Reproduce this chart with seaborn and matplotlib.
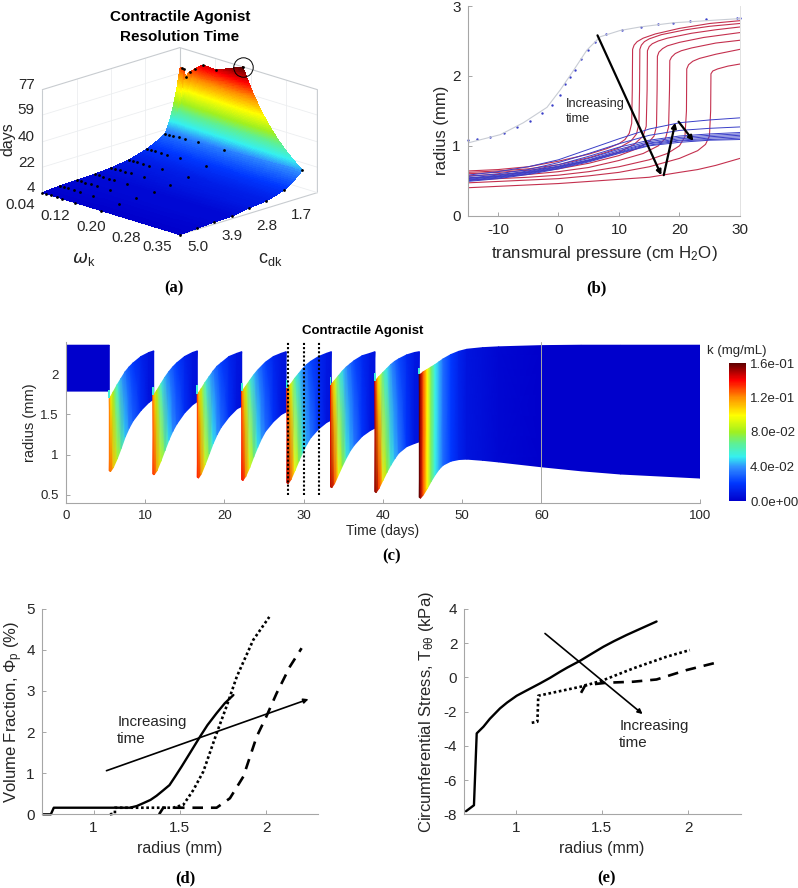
import numpy as np
import matplotlib
matplotlib.use('Agg')
import matplotlib.pyplot as plt
from matplotlib.colors import LinearSegmentedColormap, Normalize
from matplotlib.cm import ScalarMappable
from mpl_toolkits.mplot3d import proj3d
import seaborn as sns

W, H = 798, 888

# (a) resolution time surface
OMEGA_GRID = [0.04, 0.049, 0.059, 0.072, 0.085, 0.114, 0.173, 0.35]
CDK_GRID = [5.0, 4.44, 3.9, 3.33, 2.8, 2.23, 1.66, 1.08]
DAYS = [
    [4.0, 4.0, 4.0, 4.0, 4.0, 4.0, 4.0, 4.0],
    [5.0, 5.0, 5.0, 5.0, 4.9, 4.9, 4.8, 4.7],
    [5.4, 5.4, 5.4, 5.4, 5.4, 5.4, 5.5, 5.5],
    [5.7, 5.7, 5.7, 5.7, 5.7, 5.7, 5.7, 5.7],
    [6.7, 6.8, 6.8, 6.9, 7.0, 7.2, 7.5, 7.9],
    [8.5, 8.5, 8.6, 8.6, 8.7, 8.8, 9.0, 9.2],
    [12.4, 12.4, 12.5, 12.5, 12.6, 12.7, 12.9, 13.1],
    [19.0, 19.2, 19.4, 19.6, 19.9, 20.3, 20.8, 23.2],
]
OMEGA_TOP = [0.04, 0.044, 0.049, 0.053, 0.062, 0.075, 0.092, 0.122, 0.182]
DAYS_TOP = [62.5, 63.0, 62.5, 57.4, 62.0, 65.4, 69.7, 69.0, 77.0]
CDK_TOP = 0.6
OMEGA_TICKS = [0.04, 0.12, 0.20, 0.28, 0.35]
CDK_TICKS = [5.0, 3.9, 2.8, 1.7]
DAY_TICKS = [4, 22, 40, 59, 77]

# (b) pressure-radius curves
AIR_P = [-15, -9.6, -5.8, -1.9, 0.3, 2.5, 4.7, 6.9, 10.2, 13.5, 19, 30]
AIR_R = [1.04, 1.16, 1.33, 1.55, 1.80, 2.08, 2.37, 2.56, 2.65, 2.70, 2.76, 2.82]
DOT_P = [-14.9, -13.5, -11.3, -9.0, -6.8, -4.7, -2.65, -1.0, 0.28, 1.1, 1.93, 2.65,
         3.75, 4.85, 5.96, 7.83, 10.5, 13.7, 16.5, 19.0, 21.7, 24.3, 29.5, 30]
DOT_R = [1.078, 1.092, 1.121, 1.187, 1.273, 1.359, 1.474, 1.583, 1.731, 1.879, 1.984, 2.084,
         2.237, 2.37, 2.489, 2.60, 2.656, 2.699, 2.737, 2.761, 2.785, 2.809, 2.823, 2.823]
BLUE_P = [-15, -10, -5, 0, 5, 10, 15, 20, 25, 30]
BLUE_R = [
    [.58, .63, .70, .80, .95, 1.10, 1.24, 1.33, 1.37, 1.40],
    [.56, .60, .66, .76, .89, 1.03, 1.15, 1.22, 1.25, 1.27],
    [.54, .58, .64, .73, .85, .98, 1.08, 1.14, 1.17, 1.19],
    [.53, .57, .63, .71, .82, .95, 1.06, 1.12, 1.15, 1.17],
    [.52, .56, .62, .70, .80, .93, 1.04, 1.10, 1.13, 1.15],
    [.51, .55, .61, .69, .79, .91, 1.03, 1.08, 1.11, 1.13],
    [.50, .54, .60, .68, .78, .90, 1.01, 1.07, 1.09, 1.11],
    [.49, .53, .59, .67, .77, .89, 1.00, 1.05, 1.08, 1.09],
]
RED_P = [
    [-15, -10, -5, 0, 5, 8, 10, 11, 11.7, 12.1, 12.2, 12.25, 12.5, 13, 14, 16, 20, 25, 30],
    [-15, -10, -5, 0, 5, 8, 10, 12, 12.9, 13.3, 13.4, 13.45, 13.7, 14.2, 15, 17, 21, 25, 30],
    [-15, -10, -5, 0, 5, 8, 10, 12.5, 14, 14.5, 14.65, 14.7, 15, 15.5, 16.5, 18, 22, 26, 30],
    [-15, -10, -5, 0, 5, 10, 13, 15, 15.8, 16.2, 16.3, 16.35, 16.6, 17.2, 18, 20, 24, 30],
    [-15, -10, -5, 0, 5, 10, 14, 16.5, 17.7, 18.2, 18.35, 18.4, 18.7, 19.3, 20.3, 22, 26, 30],
    [-15, -10, -5, 0, 5, 10, 15, 18, 20, 20.9, 21.15, 21.2, 21.5, 22.2, 23.3, 26, 30],
    [-15, -10, -5, 0, 5, 10, 15, 20, 23, 24.3, 24.95, 25.15, 25.2, 25.5, 26.3, 28, 30],
    [-15, -10, -5, 0, 5, 10, 15, 20, 23, 26, 28, 30],
]
RED_R = [
    [.64, .66, .70, .78, .88, .96, 1.03, 1.09, 1.18, 1.32, 1.8, 2.38, 2.44, 2.49, 2.54, 2.6, 2.68, 2.75, 2.79],
    [.62, .64, .67, .73, .83, .91, .97, 1.07, 1.17, 1.32, 1.8, 2.38, 2.44, 2.49, 2.53, 2.59, 2.66, 2.71, 2.75],
    [.60, .62, .65, .70, .79, .86, .91, 1.02, 1.14, 1.28, 1.8, 2.36, 2.42, 2.46, 2.5, 2.54, 2.61, 2.66, 2.70],
    [.57, .59, .62, .67, .75, .86, .96, 1.06, 1.14, 1.28, 1.8, 2.28, 2.34, 2.39, 2.43, 2.48, 2.55, 2.62],
    [.54, .56, .59, .63, .69, .79, .89, 1.0, 1.11, 1.27, 1.8, 2.22, 2.27, 2.32, 2.36, 2.4, 2.47, 2.51],
    [.51, .53, .55, .58, .63, .70, .8, .89, 1.0, 1.13, 1.5, 2.1, 2.16, 2.21, 2.25, 2.31, 2.38],
    [.47, .49, .51, .53, .57, .62, .7, .82, .93, 1.02, 1.14, 1.5, 2.03, 2.07, 2.1, 2.14, 2.17],
    [.40, .42, .44, .46, .49, .52, .55, .62, .66, .72, .77, .82],
]

# (c) radius envelope and agonist level per dosing cycle
CYCLE_START = [5.5, 11.0, 16.6, 22.2, 27.9, 33.4, 39.0]
TAU = [0, .15, .5, 1, 1.5, 2, 2.5, 3, 4, 5, 5.6]
UPPER = [
    [1.70, 1.72, 1.78, 1.87, 1.95, 2.03, 2.09, 2.14, 2.22, 2.27, 2.29],
    [1.74, 1.75, 1.80, 1.88, 1.96, 2.03, 2.09, 2.14, 2.22, 2.27, 2.29],
    [1.76, 1.77, 1.82, 1.90, 1.97, 2.04, 2.10, 2.14, 2.22, 2.26, 2.28],
    [1.79, 1.80, 1.85, 1.92, 1.99, 2.05, 2.10, 2.15, 2.22, 2.26, 2.28],
    [1.83, 1.84, 1.88, 1.95, 2.01, 2.07, 2.12, 2.16, 2.22, 2.26, 2.28],
    [1.87, 1.88, 1.92, 1.98, 2.04, 2.09, 2.13, 2.17, 2.23, 2.26, 2.28],
    [1.92, 1.93, 1.97, 2.02, 2.07, 2.12, 2.16, 2.19, 2.24, 2.27, 2.28],
]
LOWER = [
    [.80, .79, .84, .95, 1.08, 1.22, 1.33, 1.42, 1.55, 1.65, 1.69],
    [.76, .75, .80, .92, 1.05, 1.18, 1.29, 1.38, 1.52, 1.62, 1.66],
    [.72, .71, .76, .88, 1.01, 1.14, 1.25, 1.34, 1.47, 1.57, 1.60],
    [.69, .68, .73, .84, .97, 1.09, 1.20, 1.29, 1.41, 1.50, 1.53],
    [.65, .64, .69, .80, .92, 1.03, 1.13, 1.21, 1.32, 1.40, 1.43],
    [.60, .59, .64, .75, .86, .96, 1.05, 1.12, 1.23, 1.30, 1.33],
    [.54, .53, .58, .68, .78, .87, .95, 1.02, 1.10, 1.14, 1.16],
]
K_PEAK = [.128, .134, .138, .141, .147, .150, .155]
K_LOW = [1, 1, .87, .67, .52, .37, .29, .23, .13, .055, .045]
K_UP = [.92, .8, .62, .42, .32, .25, .2, .16, .1, .06, .05]
STUB_TOP = [1.80, 1.84, 1.86, 1.89, 1.93, 1.97, 2.02, 2.08]

LAST_START = 44.6
LAST_TAU = [0, .15, .5, 1, 1.5, 2, 2.5, 3, 4, 5, 6, 8, 10, 15.4, 25.4, 35.4, 55.4]
LAST_UPPER = [2.0, 2.0, 2.03, 2.06, 2.09, 2.12, 2.155, 2.19, 2.245, 2.285, 2.31, 2.33, 2.34, 2.355, 2.36, 2.36, 2.36]
LAST_LOWER = [.47, .46, .5, .58, .67, .75, .82, .87, .92, .94, .945, .93, .91, .85, .80, .76, .71]
LAST_K = [.16, .152, .128, .1, .072, .053, .043, .032, .021, .013, .008, .005, .003, 0, 0, 0, 0]
BLOCK_T = [0, 5.5]
BLOCK_UPPER = [2.36, 2.36]
BLOCK_LOWER = [1.79, 1.79]
DOSE_LINES = [28, 30, 32]
TIME_TICKS = [0, 10, 20, 30, 40, 50, 60, 100]
CBAR_TICKS = [0, .04, .08, .12, .16]
CBAR_LABELS = ['0.0e+00', '4.0e-02', '8.0e-02', '1.2e-01', '1.6e-01']

# (d) volume fraction
PHI_SOLID = ([.708, .753, .77, 1.21, 1.25, 1.288, 1.33, 1.365, 1.40, 1.44, 1.47, 1.51, 1.56, 1.617, 1.66, 1.713, 1.76, 1.81],
             [0, 0, .16, .16, .2, .27, .35, .45, .57, .71, .9, 1.16, 1.5, 1.89, 2.17, 2.46, 2.7, 2.9])
PHI_DOT = ([1.095, 1.124, 1.124, 1.46, 1.52, 1.578, 1.636, 1.713, 1.77, 1.83, 1.925, 2.018],
           [0, .02, .16, .16, .23, .59, 1.04, 1.97, 2.62, 3.35, 4.24, 4.8])
PHI_DASH = ([1.38, 1.404, 1.713, 1.79, 1.868, 1.945, 2.0, 2.06, 2.137, 2.205],
            [0, .16, .16, .39, .92, 1.89, 2.37, 2.94, 3.59, 4.04])

# (e) circumferential stress
T_SOLID = ([.712, .758, .774, .813, .85, .909, .95, 1.006, 1.06, 1.141, 1.2, 1.257, 1.3, 1.373, 1.44, 1.508, 1.57, 1.643, 1.7, 1.817],
           [-7.82, -7.47, -3.27, -2.88, -2.42, -1.81, -1.47, -1.07, -.78, -.35, -.02, .33, .58, .97, 1.38, 1.79, 2.12, 2.48, 2.74, 3.27])
T_DOT = ([1.093, 1.126, 1.131, 1.392, 1.508, 1.682, 1.875, 2.01],
         [-2.65, -2.59, -1.07, -.51, -.16, .53, 1.21, 1.6])
T_DASH = ([1.379, 1.404, 1.527, 1.682, 1.817, 1.991, 2.185],
          [-.9, -.45, -.31, -.25, -.12, .43, .92])

sns.set_theme(style='white')
plt.rcParams['font.family'] = ['Liberation Sans', 'DejaVu Sans']
plt.rcParams['mathtext.default'] = 'regular'
plt.rcParams['axes.unicode_minus'] = False

INK = '#262626'
GRAY = '#a6a6a6'
cmap = LinearSegmentedColormap.from_list('agonist', [
    (0.0, '#0000cc'), (0.13, '#0038ff'), (0.24, '#2f8cff'), (0.32, '#35f0f0'),
    (0.42, '#60f090'), (0.5, '#a0f020'), (0.62, '#ffff00'), (0.75, '#ff9000'),
    (0.875, '#ff0000'), (1.0, '#600000')])


def px_ax(left, top, right, bottom, **kw):
    return fig.add_axes([left / W, 1 - bottom / H, (right - left) / W, (bottom - top) / H], **kw)


def px_text(x, y, s, **kw):
    kw.setdefault('ha', 'center')
    kw.setdefault('va', 'center')
    kw.setdefault('color', INK)
    fig.text(x / W, 1 - y / H, s, **kw)


def panel_label(x, y, s):
    px_text(x, y, s, family='Liberation Serif', fontweight='bold', fontsize=12, color='black')


def style(ax, size=11):
    sns.despine(ax=ax)
    for side in ['left', 'bottom']:
        ax.spines[side].set_color(GRAY)
        ax.spines[side].set_linewidth(0.8)
    ax.tick_params(direction='in', length=3, width=0.7, color=GRAY,
                   labelsize=size, labelcolor=INK, pad=5, left=True, bottom=True)
    ax.patch.set_alpha(0)


def line(ax, x, y, color='black', lw=1.0, ls='-'):
    sns.lineplot(x=x, y=y, ax=ax, color=color, linewidth=lw, linestyle=ls,
                 sort=False, estimator=None, legend=False)


def arrow(ax, start, end, lw=1.3, scale=8):
    ax.annotate('', xy=end, xytext=start,
                arrowprops=dict(arrowstyle='-|>', color='black', lw=lw, mutation_scale=scale,
                                shrinkA=0, shrinkB=0))


fig = plt.figure(figsize=(W / 100, H / 100), dpi=100, facecolor='white')

# --- (a) ---
ax = px_ax(-5, -34, 355, 326, projection='3d', proj_type='ortho', computed_zorder=False)
ax.view_init(elev=17.8, azim=-45)
ax.set_box_aspect((1, 1, 0.556), zoom=0.797)
ax.set_xlim(0.04, 0.35)
ax.set_ylim(5.0, 0.6)
ax.set_zlim(4, 77)
ax.set_xticks([])
ax.set_yticks([])
ax.set_zticks([])
ax.set_axis_off()
ax.patch.set_alpha(0)

rows_c = np.array(CDK_GRID + [CDK_TOP])
# render mesh only: the read values above are what sets the surface
c_fine = np.concatenate([np.linspace(5.0, 1.09, 80), np.linspace(1.08, 0.6, 220)])
n_c, n_o = len(c_fine), 70
X = np.zeros((n_c, n_o))
Z = np.zeros((n_c, n_o))
for i, c in enumerate(c_fine):
    omax = np.interp(c, [0.6, 1.08, 5.0], [0.182, 0.35, 0.35])
    X[i] = np.linspace(0.04, omax, n_o)
    table = [np.interp(X[i], OMEGA_GRID, row) for row in DAYS]
    table.append(np.interp(X[i], OMEGA_TOP, DAYS_TOP))
    table = np.log(np.array(table))
    for j in range(n_o):
        Z[i, j] = np.exp(np.interp(-c, -rows_c, table[:, j]))
Y = np.repeat(c_fine[:, None], n_o, axis=1)
surf_norm = Normalize(4, 76)

box = '#c8ccd0'
faint = '#eceef0'
for z in DAY_TICKS[1:-1]:
    ax.plot([0.04, 0.04], [5.0, 0.6], [z, z], color=faint, lw=0.6, zorder=1)
    ax.plot([0.04, 0.35], [0.6, 0.6], [z, z], color=faint, lw=0.6, zorder=1)
for o in OMEGA_TICKS[1:-1]:
    ax.plot([o, o], [0.6, 0.6], [4, 77], color=faint, lw=0.6, zorder=1)
for c in CDK_TICKS[1:]:
    ax.plot([0.04, 0.04], [c, c], [4, 77], color=faint, lw=0.6, zorder=1)
ax.plot([0.04, 0.04, 0.35, 0.35], [5.0, 0.6, 0.6, 0.6], [77, 77, 77, 4], color=box, lw=0.8, zorder=1)
ax.plot([0.04, 0.04], [5.0, 5.0], [4, 77], color=box, lw=0.8, zorder=1)
ax.plot([0.04, 0.04], [0.6, 0.6], [4, 77], color=box, lw=0.8, zorder=1)
ax.plot([0.04, 0.35, 0.35], [5.0, 5.0, 0.6], [4, 4, 4], color=box, lw=0.8, zorder=1)
ax.plot([0.04, 0.04, 0.35], [5.0, 0.6, 0.6], [4, 4, 4], color=faint, lw=0.6, zorder=1)

ax.plot_surface(X, Y, Z, facecolors=cmap(surf_norm(Z)), rstride=1, cstride=1,
                linewidth=0, antialiased=False, shade=False, zorder=2)
for c, row in zip(CDK_GRID, DAYS):
    ax.plot(OMEGA_GRID, [c] * len(row), row, ls='', marker='o', ms=2.0, mew=0, color='black', zorder=5)
ax.plot(OMEGA_TOP[1:], [CDK_TOP] * 8, DAYS_TOP[1:], ls='', marker='o', ms=2.0, mew=0, color='black', zorder=5)
ax.plot([OMEGA_TOP[-1]], [CDK_TOP], [DAYS_TOP[-1]], ls='', marker='o', ms=14, mfc='none',
        mec='black', mew=0.7, zorder=6)


def label3d(x, y, z, s, ha='center'):
    x2, y2, _ = proj3d.proj_transform(x, y, z, ax.get_proj())
    ax.text2D(x2, y2, s, transform=ax.transData, ha=ha, va='center', fontsize=11, color=INK)


for o in OMEGA_TICKS:
    label3d(o, 5.72, 0.1, f'{o:.2f}')
for c in CDK_TICKS:
    label3d(0.391, c, -0.7, f'{c:.1f}')
for z in DAY_TICKS:
    label3d(0.023, 5.0, z + 1.7, str(z), ha='right')

px_text(180, 17, 'Contractile Agonist', fontweight='bold', fontsize=11, color='black')
px_text(180, 37, 'Resolution Time', fontweight='bold', fontsize=11, color='black')
px_text(8, 139, 'days', rotation=90, fontsize=11.5)
px_text(84, 260, r'$\mathit{\omega}_{k}$', fontsize=13)
px_text(270, 260, r'$c_{dk}$', fontsize=13)
panel_label(174, 288, '(a)')

# --- (b) ---
ax = px_ax(467.7, 6, 740, 215.7)
for p, r in zip(RED_P, RED_R):
    line(ax, p, r, color='#c4304e', lw=0.8)
for r in BLUE_R:
    line(ax, BLUE_P, r, color='#3a3fc8', lw=0.7)
line(ax, AIR_P, AIR_R, color='#c8ccd4', lw=0.8)
sns.scatterplot(x=DOT_P, y=DOT_R, ax=ax, color='#3a3fc8', s=3, linewidth=0, legend=False, clip_on=False)
ax.set_xlim(-15, 30)
ax.set_ylim(0, 3)
ax.set_xticks([-10, 0, 10, 20, 30])
ax.set_yticks([0, 1, 2, 3])
style(ax)
ax.spines['right'].set_visible(True)
ax.spines['right'].set_color('#e2e2e2')
ax.spines['right'].set_linewidth(0.7)
arrow(ax, (6.45, 2.58), (17.0, 0.58), lw=1.6, scale=7)
arrow(ax, (17.4, 0.58), (19.3, 1.33), lw=1.6, scale=7)
arrow(ax, (19.85, 1.345), (22.3, 1.07), lw=1.6, scale=7)
ax.text(1.2, 1.49, 'Increasing\ntime', fontsize=9.2, color=INK, linespacing=1.4, va='center')
px_text(604, 253, r'transmural pressure (cm H$_2$O)', fontsize=12.2)
px_text(441, 130, 'radius (mm)', rotation=90, fontsize=12)
panel_label(596, 288, '(b)')

# --- (c) ---
ax = px_ax(65.7, 342, 700, 503)
norm = Normalize(0, 0.16)
ax.set_xscale('function', functions=(lambda t: np.interp(t, [0, 60, 100], [0, 60, 80]),
                                     lambda s: np.interp(s, [0, 60, 80], [0, 60, 100])))
ax.axvline(60, color=GRAY, lw=0.7, zorder=0)


def band(t, low, up, k_low, k_up):
    t2 = np.array([t, t])
    r2 = np.array([low, up])
    k2 = np.array([k_low, k_up])
    ax.pcolormesh(t2, r2, k2, cmap=cmap, norm=norm, shading='gouraud', zorder=2)


band(np.array(BLOCK_T), BLOCK_LOWER, BLOCK_UPPER, [0, 0], [0, 0])
for i, start in enumerate(CYCLE_START):
    band(np.array(TAU) + start, LOWER[i], UPPER[i],
         np.array(K_LOW) * K_PEAK[i], np.array(K_UP) * K_PEAK[i])
band(np.array(LAST_TAU) + LAST_START, LAST_LOWER, LAST_UPPER, LAST_K, LAST_K)
stub_t = CYCLE_START + [LAST_START]
ax.bar(stub_t, [top - u for top, u in zip(STUB_TOP, [row[0] for row in UPPER] + [LAST_UPPER[0]])],
       bottom=[row[0] for row in UPPER] + [LAST_UPPER[0]], width=0.22,
       color=cmap(norm(0.055)), linewidth=0, zorder=3)
for t in DOSE_LINES:
    line(ax, [t, t], [0.5, 2.4], color='black', lw=1.5, ls=(0, (1, 1)))
ax.set_xlim(0, 100)
ax.set_ylim(0.4, 2.4)
ax.set_xticks(TIME_TICKS)
ax.set_xticklabels([str(t) for t in TIME_TICKS])
ax.set_yticks([0.5, 1, 1.5, 2])
ax.set_yticklabels(['0.5', '1', '1.5', '2'])
ax.minorticks_off()
style(ax, size=9.5)
for t in ax.get_lines():
    t.set_zorder(4)

px_text(363, 331, 'Contractile Agonist', fontweight='bold', fontsize=9.5, color='black')
px_text(383, 531, 'Time (days)', fontsize=10)
px_text(30, 423, 'radius (mm)', rotation=90, fontsize=10.5)
px_text(737, 351, 'k (mg/mL)', fontsize=9.5)
panel_label(392, 556, '(c)')

cax = px_ax(729, 363, 746, 501)
cb = fig.colorbar(ScalarMappable(norm=norm, cmap=cmap), cax=cax, ticks=CBAR_TICKS)
cb.ax.set_yticklabels(CBAR_LABELS)
cb.outline.set_visible(False)
cb.ax.tick_params(length=0, labelsize=9.5, labelcolor=INK, pad=3)

# --- (d) ---
ax = px_ax(41.7, 608.7, 318, 814.3)
line(ax, *PHI_DOT, lw=1.9, ls=(0, (1, 1)))
line(ax, *PHI_DASH, lw=1.9, ls=(0, (4, 3)))
line(ax, *PHI_SOLID, lw=1.7)
ax.set_xlim(0.70, 2.30)
ax.set_ylim(0, 5)
ax.set_xticks([1, 1.5, 2])
ax.set_xticklabels(['1', '1.5', '2'])
ax.set_yticks([0, 1, 2, 3, 4, 5])
style(ax)
for ln in ax.get_lines():
    ln.set_clip_on(False)
arrow(ax, (1.075, 1.06), (2.245, 2.8), lw=1.2, scale=7)
ax.text(1.137, 2.03, 'Increasing\ntime', fontsize=10.9, color=INK, linespacing=1.25, va='center')
px_text(180, 848, 'radius (mm)', fontsize=11.5)
px_text(14, 712, r'Volume Fraction, $\Phi_p$ (%)', rotation=90, fontsize=12)
panel_label(185, 878, '(d)')

# --- (e) ---
ax = px_ax(464.3, 609, 740.7, 814.3)
line(ax, *T_DASH, lw=1.9, ls=(0, (4, 3)))
line(ax, *T_DOT, lw=1.9, ls=(0, (1, 1)))
line(ax, *T_SOLID, lw=1.7)
ax.set_xlim(0.702, 2.305)
ax.set_ylim(-8, 4)
ax.set_xticks([1, 1.5, 2])
ax.set_xticklabels(['1', '1.5', '2'])
ax.set_yticks([-8, -6, -4, -2, 0, 2, 4])
style(ax)
arrow(ax, (1.17, 2.57), (1.736, -2.14), lw=1.2, scale=7)
ax.text(1.60, -3.35, 'Increasing\ntime', fontsize=10.9, color=INK, linespacing=1.25, va='center')
px_text(602, 848, 'radius (mm)', fontsize=11.5)
px_text(427, 712, r'Circumferential Stress, T$_{\theta\theta}$ (kPa)', rotation=90, fontsize=12)
panel_label(607, 878, '(e)')

fig.savefig('out.png', dpi=100)
